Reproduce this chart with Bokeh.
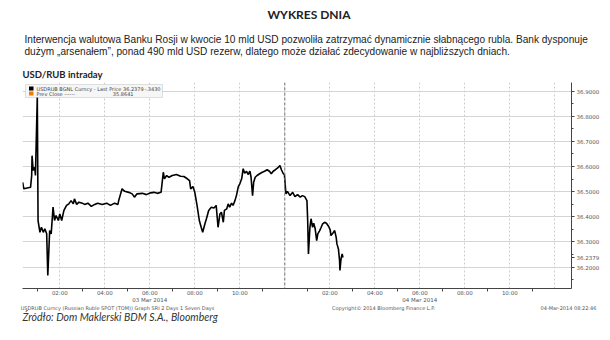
from bokeh.plotting import figure
from bokeh.models import (Label, BoxAnnotation, Span, FixedTicker, PrintfTickFormatter,
                          Range1d, LinearAxis, Title)
from bokeh.embed import file_html
from bokeh.resources import INLINE

# ---------------- data ----------------
DAY1_TIME = ["00:21", "00:24", "00:42", "00:45", "00:46", "00:49", "00:53", "00:55", "01:00",
             "01:02", "01:07", "01:11", "01:16", "01:20", "01:25", "01:28", "01:33", "01:37",
             "01:42", "01:46", "01:50", "01:56", "02:00", "02:05", "02:11", "02:18", "02:24",
             "02:30", "02:36", "02:39", "02:45", "02:51", "03:00", "03:06", "03:15", "03:24",
             "03:33", "03:41", "03:53", "04:05", "04:15", "04:26", "04:35", "04:37", "04:46",
             "04:53", "05:04", "05:13", "05:19", "05:26", "05:40", "05:51", "06:02", "06:11",
             "06:20", "06:30", "06:36", "06:39", "06:45", "06:51", "07:00", "07:11", "07:22",
             "07:31", "07:40", "07:46", "07:49", "07:55", "08:00", "08:06", "08:12", "08:17",
             "08:21", "08:27", "08:31", "08:37", "08:44", "08:51", "08:57", "09:02", "09:07",
             "09:11", "09:16", "09:19", "09:25", "09:29", "09:33", "09:38", "09:42", "09:47",
             "09:51", "09:56", "10:00", "10:05", "10:09", "10:13", "10:18", "10:22", "10:27",
             "10:30", "10:34", "10:37", "10:41", "10:46", "10:53", "11:00", "11:06", "11:13",
             "11:19", "11:24", "11:29", "11:35", "11:41", "11:47", "11:51", "11:56", "11:59"]
DAY1_PRICE = [36.537, 36.511, 36.517, 36.564, 36.643, 36.584, 36.597, 36.564, 36.880,
              36.385, 36.338, 36.358, 36.338, 36.352, 36.332, 36.166, 36.345, 36.332,
              36.438, 36.385, 36.405, 36.385, 36.411, 36.385, 36.425, 36.445, 36.451,
              36.464, 36.451, 36.471, 36.449, 36.458, 36.454, 36.449, 36.454, 36.441,
              36.449, 36.454, 36.449, 36.454, 36.445, 36.454, 36.449, 36.464, 36.511,
              36.501, 36.497, 36.491, 36.478, 36.491, 36.493, 36.488, 36.495, 36.497,
              36.493, 36.497, 36.577, 36.551, 36.564, 36.557, 36.564, 36.568, 36.561,
              36.560, 36.551, 36.544, 36.511, 36.520, 36.497, 36.445, 36.385, 36.358,
              36.338, 36.372, 36.392, 36.425, 36.438, 36.435, 36.445, 36.358, 36.411,
              36.418, 36.378, 36.425, 36.431, 36.451, 36.438, 36.454, 36.445, 36.464,
              36.484, 36.520, 36.531, 36.551, 36.591, 36.573, 36.581, 36.568, 36.581,
              36.557, 36.484, 36.537, 36.557, 36.564, 36.571, 36.577, 36.581, 36.587,
              36.581, 36.571, 36.581, 36.587, 36.594, 36.604, 36.587, 36.571, 36.567]
DAY2_TIME = ["00:03", "00:07", "00:14", "00:21", "00:27", "00:34", "00:41", "00:47", "00:53",
             "00:59", "01:01", "01:03", "01:07", "01:10", "01:14", "01:17", "01:21", "01:25",
             "01:28", "01:33", "01:37", "01:41", "01:46", "01:51", "01:57", "02:01", "02:03",
             "02:08", "02:13", "02:17", "02:19", "02:23", "02:26", "02:27", "02:30", "02:33",
             "02:35"]
DAY2_PRICE = [36.491, 36.501, 36.484, 36.497, 36.480, 36.488, 36.478, 36.484, 36.480,
              36.464, 36.385, 36.252, 36.358, 36.392, 36.358, 36.374, 36.352, 36.305,
              36.332, 36.345, 36.358, 36.372, 36.378, 36.374, 36.361, 36.348, 36.325,
              36.334, 36.345, 36.318, 36.292, 36.272, 36.226, 36.186, 36.233, 36.252,
              36.2379]
SESSION_HOURS = 12
HOUR_TICKS = [2, 4, 6, 8, 10]
HOUR_LABELS = ["02:00", "04:00", "06:00", "08:00", "10:00"]
DATE_LABELS = ["03 Mar 2014", "04 Mar 2014"]
PRICE_TICKS = [36.2, 36.3, 36.4, 36.5, 36.6, 36.7, 36.8, 36.9]
LAST_PRICE = 36.2379
CHANGE = "-.3430"
PREV_CLOSE = 35.8641
FOOTER_TEXTS = ["USDRUB Curncy (Russian Ruble SPOT (TOM)) Graph SRI 2 Days 1 Seven Days",
                "Copyright© 2014 Bloomberg Finance L.P.",
                "04-Mar-2014 08:22:46"]
PARAGRAPH = ["Interwencja walutowa Banku Rosji w kwocie 10 mld USD pozwoliła zatrzymać "
             "dynamicznie słabnącego rubla. Bank dysponuje",
             "dużym „arsenałem”, ponad 490 mld USD rezerw, dlatego może działać "
             "zdecydowanie w najbliższych dniach."]


def to_hours(t):
    h, m = t.split(":")
    return int(h) + int(m) / 60.0


xs = [to_hours(t) for t in DAY1_TIME] + [to_hours(t) + SESSION_HOURS for t in DAY2_TIME]
ys = DAY1_PRICE + DAY2_PRICE

# ---------------- geometry ----------------
W, H = 610, 340
FL, FR, FT, FB = 22, 571, 82, 288
X0, X1 = 0.342, 24.742
Y0, Y1 = 36.1145, 36.934


def dx(px):
    return X0 + (px - FL) * (X1 - X0) / (FR - FL)


def dy(py):
    return Y1 - (py - FT) * (Y1 - Y0) / (FB - FT)


p = figure(width=W, height=H, output_backend="svg", toolbar_location=None, title=None,
           x_range=Range1d(X0, X1), y_range=Range1d(Y0, Y1), y_axis_location="right",
           min_border_left=FL, min_border_right=W - FR, min_border_top=FT,
           min_border_bottom=H - FB)
p.outline_line_color = None
p.background_fill_color = "white"
p.border_fill_color = "white"

# ---------------- headings (stacked outward from the frame) ----------------
p.add_layout(Title(text="USD/RUB intraday", align="left", offset=0, standoff=5,
                   text_font="Lato", text_font_style="bold", text_font_size="9.5px",
                   text_color="#222222"), "above")
p.add_layout(Title(text="\n".join(PARAGRAPH), align="left", offset=2, standoff=14,
                   text_font="Liberation Sans", text_font_style="normal",
                   text_font_size="10.1px", text_line_height=1.13,
                   text_color="#222222"), "above")
p.add_layout(Title(text="WYKRES DNIA", align="left", offset=245, standoff=8,
                   text_font="Lato", text_font_style="bold", text_font_size="12px",
                   text_color="#222222"), "above")

# ---------------- x axes ----------------
major = []
overrides = {}
for d in range(2):
    for t, txt in zip(HOUR_TICKS, HOUR_LABELS):
        major.append(t + d * SESSION_HOURS)
        overrides[t + d * SESSION_HOURS] = txt
minor = [h + 0.0 for h in range(1, 2 * SESSION_HOURS, 2)]
xa = p.xaxis[0]
xa.ticker = FixedTicker(ticks=sorted(major), minor_ticks=minor)
xa.major_label_overrides = overrides
xa.axis_line_color = "#444444"
xa.minor_tick_line_color = "#444444"
xa.major_tick_line_color = None
xa.major_tick_out = 1
xa.major_tick_in = 0
xa.minor_tick_out = 3
xa.minor_tick_in = 0
xa.major_label_standoff = -2
xa.major_label_text_font = "DejaVu Sans"
xa.major_label_text_font_size = "5.5px"
xa.major_label_text_color = "#555555"


def text_axis(ticks, labels, size, standoff):
    return LinearAxis(ticker=FixedTicker(ticks=ticks),
                      major_label_overrides=dict(zip(ticks, labels)),
                      axis_line_color=None, major_tick_line_color=None,
                      minor_tick_line_color=None, major_tick_out=0, major_tick_in=0,
                      minor_tick_out=0, minor_tick_in=0, major_label_standoff=standoff,
                      major_label_text_font="DejaVu Sans",
                      major_label_text_font_size=size,
                      major_label_text_color="#555555")


date_ticks = [HOUR_TICKS[2] + d * SESSION_HOURS for d in range(len(DATE_LABELS))]
p.add_layout(text_axis(date_ticks, DATE_LABELS, "5.5px", -2), "below")
footer_ticks = [dx(117), dx(383), dx(568)]
p.add_layout(text_axis(footer_ticks, FOOTER_TEXTS, "5px", -1), "below")
p.add_layout(Title(text="Źródło: Dom Maklerski BDM S.A., Bloomberg", align="left", offset=0,
                   standoff=-6, vertical_align="top", text_font="Lato",
                   text_font_style="italic", text_font_size="10.5px",
                   text_color="#333333"), "below")

# ---------------- y axis (right) ----------------
ya = p.yaxis[0]
ya.ticker = FixedTicker(ticks=PRICE_TICKS + [LAST_PRICE],
                        minor_ticks=[round(v + 0.05, 2) for v in [36.1] + PRICE_TICKS])
ya.formatter = PrintfTickFormatter(format="%.4f")
ya.axis_line_color = "#444444"
ya.major_tick_line_color = "#444444"
ya.minor_tick_line_color = "#444444"
ya.major_tick_out = 3
ya.major_tick_in = 0
ya.minor_tick_out = 2
ya.minor_tick_in = 0
ya.major_label_standoff = 2
ya.major_label_text_font = "DejaVu Sans"
ya.major_label_text_font_size = "5.5px"
ya.major_label_text_color = "#555555"

# ---------------- grids ----------------
p.ygrid.ticker = FixedTicker(ticks=PRICE_TICKS)
p.ygrid.grid_line_color = "#d4d4d4"
p.ygrid.grid_line_width = 1.2
p.xgrid.ticker = FixedTicker(ticks=list(range(0, 2 * SESSION_HOURS + 1, 2)))
p.xgrid.grid_line_color = "#cccccc"
p.xgrid.grid_line_dash = "2 2"
p.xgrid.grid_line_width = 1

p.add_layout(Span(location=SESSION_HOURS, dimension="height", line_color="#777777",
                  line_dash="3 2", line_width=1))

# ---------------- price line ----------------
p.line(xs, ys, line_color="black", line_width=1.6)

# ---------------- legend box ----------------
p.add_layout(BoxAnnotation(left=dx(25), right=dx(162), top=dy(84), bottom=dy(97),
                           fill_color="#f6f6f6", fill_alpha=1, line_color="#a0a0a0",
                           line_width=1, level="overlay"))
p.add_layout(BoxAnnotation(left=dx(28.5), right=dx(33), top=dy(86), bottom=dy(90),
                           fill_color="black", fill_alpha=1, line_color=None, level="overlay"))
p.add_layout(BoxAnnotation(left=dx(28.5), right=dx(33), top=dy(91), bottom=dy(95),
                           fill_color="#f07f00", fill_alpha=1, line_color=None, level="overlay"))


def put(text, px, py, align="left"):
    p.add_layout(Label(x=dx(px), y=dy(py), text=text, text_font="DejaVu Sans",
                       text_font_size="5px", text_color="#444444", text_align=align,
                       text_baseline="middle", level="overlay"))


put(f"USDRUB BGNL Curncy - Last Price {LAST_PRICE:.4f}", 36, 88.2)
put(CHANGE, 160, 88.2, align="right")
put("Prev Close ------", 36, 93.3)
put(f"{PREV_CLOSE:.4f}", 133, 93.3, align="right")

open("out.html", "w").write(file_html(p, INLINE))
